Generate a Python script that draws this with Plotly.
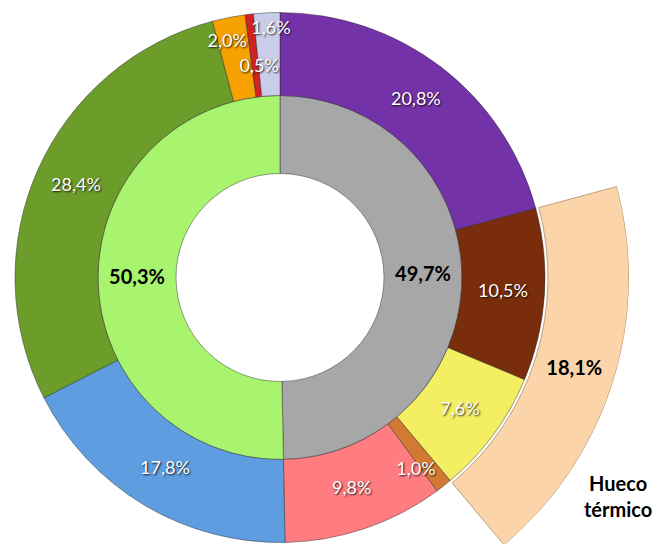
import math
import plotly.graph_objects as go

# ---------------- data ----------------
outer_pct = [20.8, 10.5, 7.6, 1.0, 9.8, 17.8, 28.4, 2.0, 0.5, 1.6]
outer_colors = ["#7432A8", "#7A2D0B", "#F4EE62", "#D37A32", "#FF7C80",
                "#5E9DE0", "#6C9D2B", "#F5A200", "#D22222", "#C9CDEA"]
inner_pct = [49.7, 50.3]
inner_colors = ["#A7A7A7", "#A9F46E"]
band_pct = 18.1          # brown + yellow slices
band_first = 1           # index of first outer slice covered by the band
band_color = "#FBD4A9"
band_title = "Hueco<br>térmico"

# ---------------- geometry / style ----------------
W, H = 661, 544
OFF = 8                   # page (body) margin offset
CX, CY = 280 - OFF, 277.5 - OFF
R_HOLE, R_IN, R_OUT = 104, 182, 265
R_B0, R_B1 = 268, 349
R_MAIN = 268              # radius of main polar area (px)
label_r_override = {3: 236, 7: 241, 8: 211, 9: 248}
label_dtheta = {3: 3.0, 7: -1.5, 8: 1.0, 9: 0.8}
FONT = "Lato"


def fmt(v):
    return f"{v:.1f}".replace(".", ",") + "%"


def centers(vals):
    out, c = [], 0.0
    for v in vals:
        out.append((c + v / 2) * 3.6)
        c += v
    return out


outer_theta = centers(outer_pct)
outer_width = [v * 3.6 for v in outer_pct]
inner_theta = centers(inner_pct)
inner_width = [v * 3.6 for v in inner_pct]
band_start = sum(outer_pct[:band_first])
band_theta = (band_start + band_pct / 2) * 3.6
band_width = band_pct * 3.6

fig = go.Figure()
line = dict(color="rgba(40,40,40,0.45)", width=1)

fig.add_trace(go.Barpolar(
    theta=inner_theta, width=inner_width, r=[R_IN - R_HOLE] * len(inner_pct),
    base=R_HOLE, marker=dict(color=inner_colors, line=line),
    subplot="polar", hoverinfo="skip"))
fig.add_trace(go.Barpolar(
    theta=outer_theta, width=outer_width, r=[R_OUT - R_IN] * len(outer_pct),
    base=R_IN, marker=dict(color=outer_colors, line=line),
    subplot="polar", hoverinfo="skip"))

# labels
outer_r = [label_r_override.get(i, (R_IN + R_OUT) / 2) for i in range(len(outer_pct))]
outer_lt = [t + label_dtheta.get(i, 0) for i, t in enumerate(outer_theta)]
fig.add_trace(go.Scatterpolar(
    theta=outer_lt, r=outer_r, mode="text", text=[fmt(v) for v in outer_pct],
    textfont=dict(family=FONT, size=18, color="white",
                  shadow="1px 1px 2px rgba(0,0,0,0.85)"),
    subplot="polar", hoverinfo="skip"))
fig.add_trace(go.Scatterpolar(
    theta=inner_theta, r=[(R_HOLE + R_IN) / 2] * len(inner_pct), mode="text",
    text=[fmt(v) for v in inner_pct],
    textfont=dict(family=FONT, size=20, color="black", weight="bold"),
    subplot="polar", hoverinfo="skip"))

# highlighted band (second, sector-shaped polar sharing same centre & scale)
fig.add_trace(go.Barpolar(
    theta=[band_theta], width=[band_width], r=[R_B1 - R_B0], base=R_B0,
    marker=dict(color=[band_color], line=dict(color="rgba(150,110,70,0.6)", width=1)),
    subplot="polar2", hoverinfo="skip"))
fig.add_trace(go.Scatterpolar(
    theta=[band_theta], r=[(R_B0 + R_B1) / 2], mode="text", text=[fmt(band_pct)],
    textfont=dict(family=FONT, size=20, color="black", weight="bold"),
    subplot="polar2", hoverinfo="skip"))

hidden_radial = dict(visible=False, showgrid=False, showline=False, showticklabels=False, ticks="")
hidden_ang = dict(visible=False, showgrid=False, showline=False, showticklabels=False, ticks="",
                  rotation=90, direction="clockwise")

sec = [-51, 16]
b_bottom = CY + R_B1 * math.sin(math.radians(-sec[0]))
b_top = CY - R_B1 * math.sin(math.radians(sec[1]))

fig.update_layout(
    width=W, height=H, margin=dict(l=0, r=0, t=0, b=0),
    paper_bgcolor="white", showlegend=False, hovermode=False,
    polar=dict(
        domain=dict(x=[(CX - R_MAIN) / W, (CX + R_MAIN) / W],
                    y=[1 - (CY + R_MAIN) / H, 1 - (CY - R_MAIN) / H]),
        bgcolor="rgba(0,0,0,0)", hole=0,
        radialaxis=dict(range=[0, R_MAIN], **hidden_radial),
        angularaxis=hidden_ang),
    polar2=dict(
        domain=dict(x=[CX / W, (CX + R_B1) / W],
                    y=[max(0, 1 - b_bottom / H), 1 - b_top / H]),
        sector=sec, bgcolor="rgba(0,0,0,0)", hole=0,
        radialaxis=dict(range=[0, R_B1], **hidden_radial),
        angularaxis=hidden_ang),
    annotations=[dict(text=band_title, x=(618 - OFF) / W, y=1 - (496 - OFF) / H,
                      xref="paper", yref="paper",
                      showarrow=False, xanchor="center", yanchor="middle",
                      font=dict(family=FONT, size=20, color="black", weight="bold"))],
)

fig.write_html("out.html")
